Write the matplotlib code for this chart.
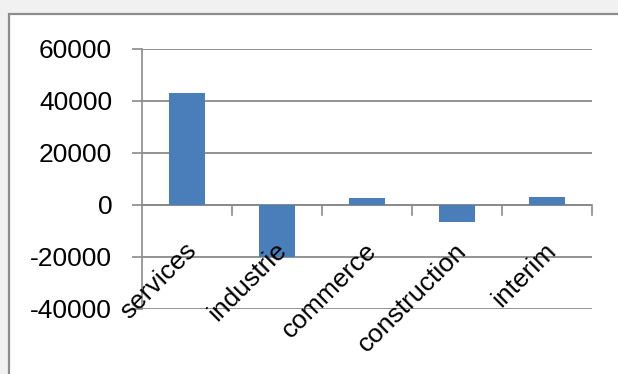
import numpy as np
import matplotlib
matplotlib.use("Agg")
import matplotlib.pyplot as plt
from matplotlib.patches import Rectangle

# Data
categories = ["services", "industrie", "commerce", "construction", "interim"]
values = [43200, -20000, 2600, -6700, 3200]
yticks = [-40000, -20000, 0, 20000, 40000, 60000]

plt.rcParams['font.family'] = ['Liberation Sans', 'DejaVu Sans']

W, H = 618, 374
fig = plt.figure(figsize=(W / 100, H / 100), dpi=100)
fig.patch.set_facecolor("#f1f1f1")

# cadre du graphique (bord gris)
fig.patches.append(Rectangle((8.5 / W, -0.05), 1.1, 1 - 13.5 / H + 0.05,
                             transform=fig.transFigure, facecolor="white",
                             edgecolor="#8c8c8c", lw=1.6, zorder=-5))

ax = fig.add_axes([142 / W, 1 - 309 / H, 450 / W, 260 / H])
ax.set_facecolor("none")
x = np.arange(len(categories))
ax.bar(x, values, width=0.39, color="#4a7ebb", zorder=3)

ax.set_xlim(-0.5, len(categories) - 0.5)
ax.set_ylim(-40000, 60000)
ax.set_yticks(yticks)
ax.set_yticklabels([str(t) for t in yticks], fontsize=19)
ax.yaxis.grid(True, color="#8a8a8a", lw=1.3, zorder=1)
ax.tick_params(axis="y", length=7.5, width=1.2, color="#8a8a8a", pad=14)

for s in ["top", "right", "bottom"]:
    ax.spines[s].set_visible(False)
ax.spines["left"].set_color("#8a8a8a")
ax.spines["left"].set_linewidth(1.2)

# axe horizontal a zero avec graduations entre categories
ax.axhline(0, color="#8a8a8a", lw=1.3, zorder=2)
ax.set_xticks([])
for b in np.arange(0.5, len(categories), 1.0):
    ax.plot([b, b], [0, -3900], color="#8a8a8a", lw=1.2, zorder=2, clip_on=False)

for xi, lab in zip(x, categories):
    ax.annotate(lab, xy=(xi, 0), xytext=(-2, -24), textcoords="offset points",
                rotation=45, ha="right", va="top", rotation_mode="anchor",
                fontsize=19, zorder=4)

fig.savefig("out.png", dpi=100, facecolor=fig.get_facecolor())
